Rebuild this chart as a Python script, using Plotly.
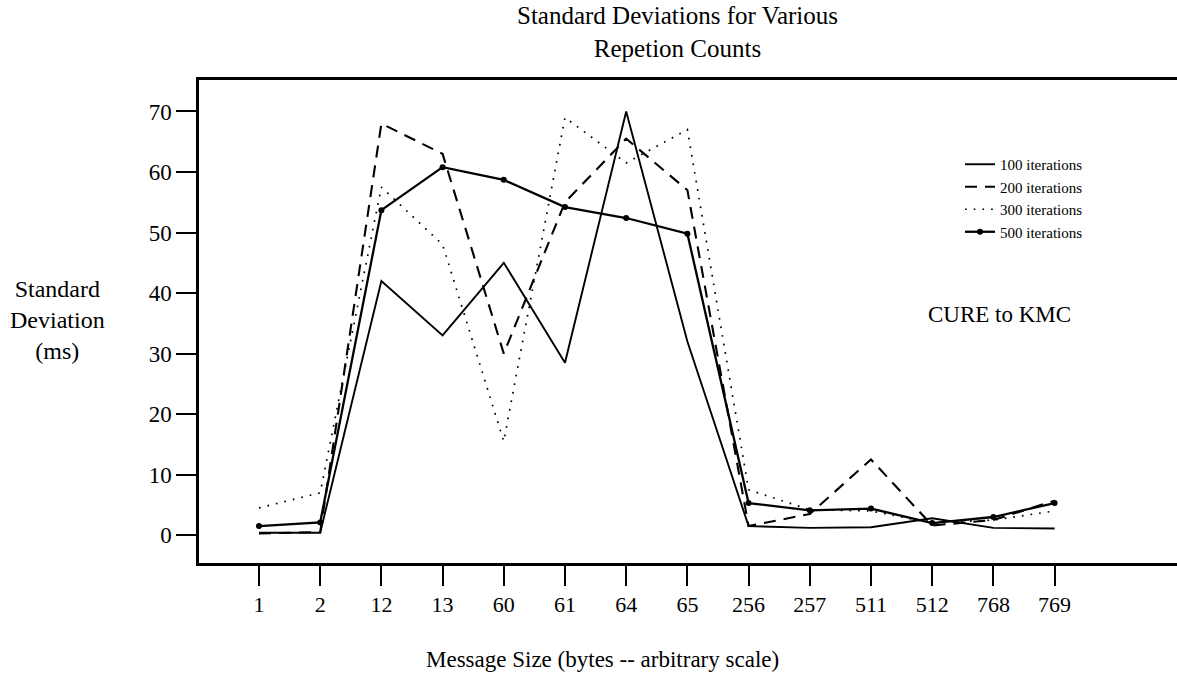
import plotly.graph_objects as go

categories = ["1", "2", "12", "13", "60", "61", "64", "65", "256", "257", "511", "512", "768", "769"]
it100 = [0.4, 0.4, 42, 33, 45, 28.5, 70, 32, 1.5, 1.2, 1.3, 2.8, 1.2, 1.1]
it200 = [0.3, 0.5, 68, 63, 30, 55, 65.5, 57, 1.5, 3.5, 12.5, 1.6, 2.5, 5.7]
it300 = [4.5, 7, 57.5, 48, 15.5, 69, 61.5, 67, 7.5, 4.2, 4.0, 2.0, 2.5, 4.0]
it500 = [1.5, 2.1, 53.7, 60.8, 58.7, 54.2, 52.4, 49.8, 5.3, 4.1, 4.4, 2.0, 3.0, 5.3]
y_ticks = [0, 10, 20, 30, 40, 50, 60, 70]

SERIF = "Liberation Serif, Times New Roman, serif"
W, H = 1177, 676
ML, MR, MT, MB = 199, 0, 80, 113

fig = go.Figure()
fig.add_trace(go.Scatter(x=categories, y=it100, name="100 iterations", mode="lines",
                         line=dict(color="black", width=1.9)))
fig.add_trace(go.Scatter(x=categories, y=it200, name="200 iterations", mode="lines",
                         line=dict(color="black", width=2.1, dash="12px,8px")))
fig.add_trace(go.Scatter(x=categories, y=it300, name="300 iterations", mode="lines",
                         line=dict(color="black", width=1.7, dash="1.7px,7px")))
fig.add_trace(go.Scatter(x=categories, y=it500, name="500 iterations", mode="lines+markers",
                         line=dict(color="black", width=2.3),
                         marker=dict(color="black", size=6)))

pw, ph = W - ML - MR, H - MT - MB
def px(xp):
    return (xp - ML) / pw
def py(yp):
    return (H - MB - yp) / ph

fig.update_layout(
    width=W, height=H,
    paper_bgcolor="white", plot_bgcolor="white",
    margin=dict(l=ML, r=MR, t=MT, b=MB),
    font=dict(family=SERIF, color="black", size=20),
    showlegend=True,
    legend=dict(x=px(960), y=py(148), xanchor="left", yanchor="top",
                font=dict(family=SERIF, size=15, color="black"),
                bgcolor="rgba(0,0,0,0)", tracegroupgap=0),
)

def note(text, x, y, size, **kw):
    fig.add_annotation(text=text, x=px(x), y=py(y), xref="paper", yref="paper",
                       showarrow=False, xanchor="center", yanchor="middle",
                       font=dict(size=size, family=SERIF, color="black"), **kw)

note("Standard Deviations for Various<br>Repetion Counts", 677, 32, 25, align="center")
note("Standard<br>Deviation<br>(ms)", 57, 320, 24, align="center")
note("CURE to KMC", 999, 314, 23)
note("Message Size (bytes -- arbitrary scale)", 602, 659, 23)

fig.update_xaxes(type="category", range=[-0.98, 15.0], showgrid=False, zeroline=False,
                 showline=True, mirror=True, linecolor="black", linewidth=2.5,
                 ticks="outside", ticklen=20, tickwidth=2, tickcolor="black",
                 tickfont=dict(size=22, family=SERIF))
fig.update_yaxes(range=[-4.6, 75.2], tickvals=y_ticks, showgrid=False, zeroline=False,
                 showline=True, mirror=False, linecolor="black", linewidth=2.5,
                 ticks="outside", ticklen=20, tickwidth=2, tickcolor="black",
                 tickfont=dict(size=23, family=SERIF))

fig.write_html("out.html", config={"displayModeBar": False},
               post_script="document.body.style.margin='0';document.body.style.overflow='hidden';")
